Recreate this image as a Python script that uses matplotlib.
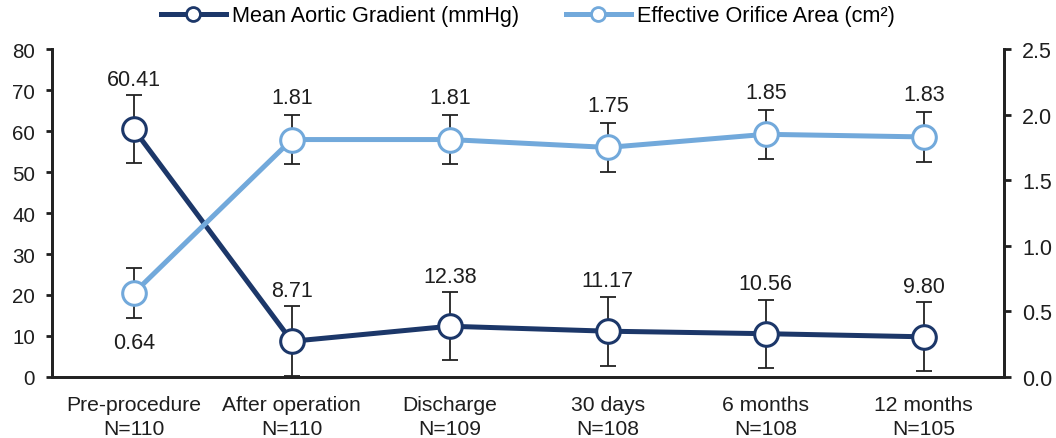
import matplotlib
matplotlib.use('Agg')
import matplotlib.pyplot as plt
from matplotlib.lines import Line2D

plt.rcParams['font.family'] = ['Liberation Sans', 'DejaVu Sans']

# data
labels = ['Pre-procedure\nN=110', 'After operation\nN=110', 'Discharge\nN=109',
          '30 days\nN=108', '6 months\nN=108', '12 months\nN=105']
gradient = [60.41, 8.71, 12.38, 11.17, 10.56, 9.80]
gradient_sd = [8.3, 8.5, 8.3, 8.4, 8.3, 8.4]
eoa = [0.64, 1.81, 1.81, 1.75, 1.85, 1.83]
eoa_sd = [0.19, 0.19, 0.19, 0.19, 0.185, 0.19]

dark = '#1c3769'
light = '#72a9db'
txt = '#1e1e1e'

fig = plt.figure(figsize=(10.56, 4.39), dpi=100)
ax = fig.add_axes([0.049, 0.139, 0.902, 0.747])
ax2 = ax.twinx()

x = list(range(len(labels)))

ax.errorbar(x, gradient, yerr=gradient_sd, fmt='none', ecolor='#222222',
            elinewidth=1.3, capsize=6, capthick=1.3, zorder=2)
ax.plot(x, gradient, color=dark, lw=3.6, marker='o', ms=17, mfc='white',
        mec=dark, mew=2.2, zorder=3)

ax2.errorbar(x, eoa, yerr=eoa_sd, fmt='none', ecolor='#222222',
             elinewidth=1.3, capsize=6, capthick=1.3, zorder=2)
ax2.plot(x, eoa, color=light, lw=3.6, marker='o', ms=17, mfc='white',
         mec=light, mew=2.2, zorder=3)

# value labels
for i, (v, s) in enumerate(zip(gradient, gradient_sd)):
    ax.annotate('%.2f' % v, (i, v + s), xytext=(0, 4), textcoords='offset points',
                ha='center', va='bottom', fontsize=15.5, color=txt)
for i, (v, s) in enumerate(zip(eoa, eoa_sd)):
    if i == 0:
        ax2.annotate('%.2f' % v, (i, v - s), xytext=(0, -10), textcoords='offset points',
                     ha='center', va='top', fontsize=15.5, color=txt)
    else:
        ax2.annotate('%.2f' % v, (i, v + s), xytext=(0, 5), textcoords='offset points',
                     ha='center', va='bottom', fontsize=15.5, color=txt)

ax.set_xlim(-0.52, 5.51)
ax.set_ylim(0, 80)
ax2.set_ylim(0, 2.5)
ax.set_yticks(range(0, 81, 10))
ax2.set_yticks([0, 0.5, 1.0, 1.5, 2.0, 2.5])
ax2.set_yticklabels(['0.0', '0.5', '1.0', '1.5', '2.0', '2.5'])
ax.set_xticks(x)
ax.set_xticklabels(labels, fontsize=15.2, color=txt, linespacing=1.35)

for a in (ax, ax2):
    a.spines['top'].set_visible(False)
    for sp in a.spines.values():
        sp.set_linewidth(2)
        sp.set_color('#222222')
ax.tick_params(axis='y', labelsize=14.8, width=2, length=4, pad=8, colors=txt)
ax2.tick_params(axis='y', labelsize=15.5, width=2, length=5, pad=8, colors=txt)
ax.tick_params(axis='x', length=0, pad=13)

handles = [
    Line2D([], [], color=dark, lw=3.6, marker='o', ms=10, mfc='white', mec=dark, mew=2),
    Line2D([], [], color=light, lw=3.6, marker='o', ms=10, mfc='white', mec=light, mew=2),
]
fig.legend(handles, ['Mean Aortic Gradient (mmHg)', 'Effective Orifice Area (cm²)'],
           loc='upper center', bbox_to_anchor=(0.5, 1.03), ncol=2, frameon=False,
           fontsize=15.6, handlelength=3.0, handletextpad=0.3, columnspacing=2.15)

fig.savefig('out.png', dpi=100)
